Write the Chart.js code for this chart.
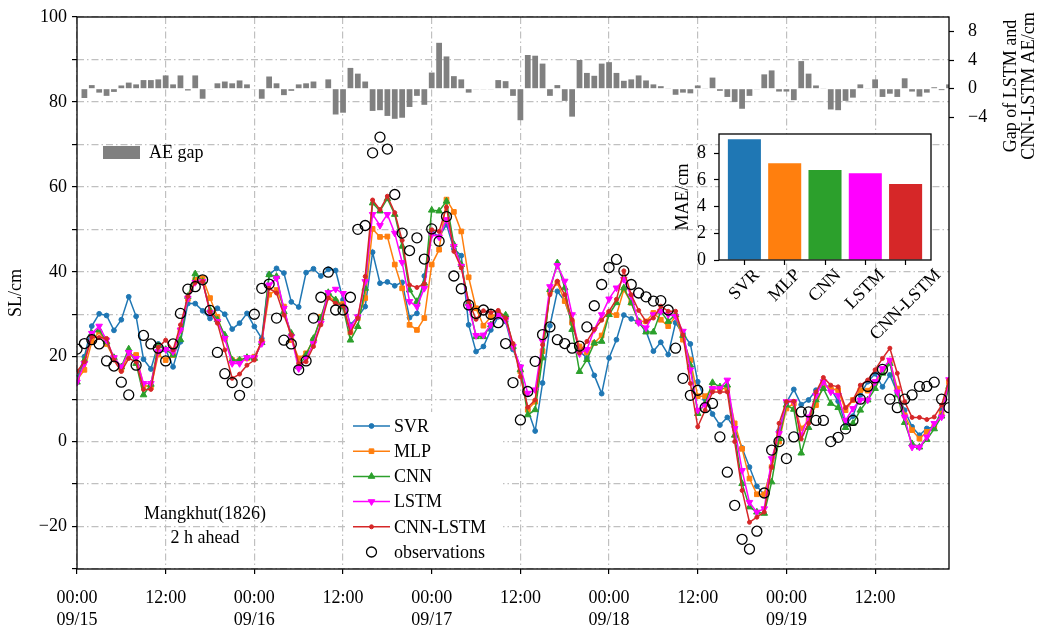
<!DOCTYPE html>
<html>
<head>
<meta charset="utf-8">
<script src="https://cdn.jsdelivr.net/npm/chart.js@4.4.1/dist/chart.umd.min.js"></script>
<style>
  html, body { margin: 0; padding: 0; background: #fff; }
  #wrap { position: relative; width: 1043px; height: 634px; }
  #main { position: absolute; left: 0; top: 0; }
  #inset { position: absolute; left: 640px; top: 120px; }
</style>
</head>
<body>
<div id="wrap">
  <canvas id="main" width="1043" height="634"></canvas>
  <canvas id="inset" width="305" height="230"></canvas>
</div>
<script>
// hourly samples, 09/15 00:00 .. 09/19 22:00
const hours = Array.from({ length: 119 }, (_, i) => i);

const tickHours = [0, 12, 24, 36, 48, 60, 72, 84, 96, 108];
const tickTimes = ['00:00', '12:00', '00:00', '12:00', '00:00', '12:00', '00:00', '12:00', '00:00', '12:00'];
const tickDates = ['09/15', '', '09/16', '', '09/17', '', '09/18', '', '09/19', ''];

const svr = [
  15, 20, 27.2, 30.1, 29.7, 26.2, 28.7, 34.1, 29.5, 19.4, 17.1, 23,
  21.7, 17.6, 23.5, 32.5, 32.5, 30.8, 29, 31.4, 30, 26.5, 27.9, 30.2,
  27.1, 24.3, 39.3, 40.8, 39.7, 32.9, 31.7, 39.8, 40.7, 39, 40.6, 40.3,
  33.4, 27.5, 29.4, 31.8, 44.6, 37.3, 37.6, 36.7, 37.5, 29.2, 30.2, 39,
  49.5, 48.2, 51.1, 45.4, 43.8, 27.5, 21.2, 22.4, 26.3, 29.4, 28.3, 21.7,
  17.6, 7.5, 2.5, 13.8, 27.3, 35.4, 33.1, 28, 21.3, 19.7, 15.6, 11.3,
  19.7, 24, 29.8, 28.9, 28.1, 26, 21.3, 23.4, 20.5, 28, 25.4, 23,
  14.1, 10, 6.5, 3.9, 5.7, 3, -1.5, -6, -10.5, -12.5, -6, 2.5,
  9.2, 12.3, 8.7, 9.8, 12.1, 13.7, 12.5, 9.5, 4, 6, 11, 14.1,
  16, 12.9, 15.7, 11.5, 7.4, 3.5, 1.5, 3.1, 3.5, 7.4, 13
];
const mlp = [
  14.5, 16.9, 23.5, 25.9, 23, 19.6, 17, 20.5, 20.4, 13.3, 12.8, 20.5,
  19.2, 20.4, 26.3, 33.6, 38.1, 38.5, 33.8, 29.4, 24.3, 19.2, 19.1, 19.6,
  20, 23.5, 34.6, 35.7, 31.8, 23.9, 19.6, 20.8, 23.9, 29.4, 34.2, 33,
  32.4, 25.7, 29.1, 33.8, 50.1, 48.2, 48.3, 41.7, 36.1, 27.5, 26.3, 29.1,
  41.7, 45.2, 57, 54.1, 49.5, 38.7, 31.4, 27.3, 29.4, 30.2, 29.1, 22.4,
  16.5, 7.5, 9.4, 21.3, 35.4, 37.4, 33.1, 28, 22.4, 21, 23.2, 25,
  30.3, 29.8, 35.8, 32.7, 28.3, 28.3, 30.3, 28.7, 27.2, 29.5, 24, 19.2,
  10.7, 10.7, 12.5, 12.5, 12.5, 4.3, -1.7, -8.7, -12.4, -12.4, -6, 0,
  7.8, 9, 3.1, 5, 8.6, 13.3, 12.5, 12.1, 7.4, 9.8, 12.1, 12,
  14, 16.5, 19, 12.5, 6.2, 2.7, 0.7, 2.3, 3.5, 6.6, 14
];
const cnn = [
  14, 19.2, 25.5, 26.3, 23.5, 19.8, 17.6, 21.8, 18.4, 11, 13.5, 22.6,
  21.7, 20.4, 24, 34.2, 39.5, 37.7, 31, 28.7, 25.1, 19.2, 19.2, 19.8,
  19.6, 23.3, 39.3, 38.9, 30.6, 25.5, 17.6, 20.4, 24.3, 29.1, 35.1, 33.4,
  31.7, 23.9, 27.1, 36.1, 56.2, 54.3, 57.2, 53.5, 46, 35.7, 33, 37.3,
  54.5, 54.3, 56.6, 46.4, 41.7, 32.6, 24.7, 24.7, 27.5, 30.2, 29.8, 22.4,
  16.9, 6.3, 7.5, 19.7, 35.8, 42.1, 36.2, 26.4, 16.5, 19.3, 23.2, 23.6,
  29.9, 32.7, 36.2, 32.7, 28.3, 25.8, 25.8, 30.7, 28.3, 29.9, 25, 18,
  6.6, 9, 13.9, 12.9, 13.3, 1.5, -9.9, -15.4, -16.6, -16.9, -9.5, 0.7,
  8.6, 7.6, -2.7, 3.3, 9.8, 12.5, 9, 8, 3.3, 4.3, 7.4, 9.8,
  12.5, 16.1, 18.4, 11, 4.5, -0.5, -1.3, 0.5, 3, 6, 13
];
const lstm = [
  14, 18.4, 25.5, 27.2, 23.9, 19.8, 17.6, 21, 19.6, 13.7, 13.7, 21.2,
  21.7, 21.2, 26.3, 33.8, 37.5, 37.7, 30.4, 28.3, 24.3, 18.4, 18.4, 19.8,
  19.8, 23.1, 36.9, 38.5, 31.4, 24.7, 17.2, 19.6, 23.1, 27.9, 35.1, 35.9,
  34.9, 27.1, 29.4, 37.7, 53.5, 50.9, 53.5, 49.1, 42.2, 33, 31.8, 36.1,
  48.7, 48.2, 52.3, 46, 41.3, 31.8, 25, 25.1, 27.5, 29.8, 28.7, 22.4,
  17.6, 11.4, 12.2, 23.6, 36.5, 41.5, 37.8, 29.9, 20.7, 21.7, 26.4, 29.9,
  33.6, 36.2, 38.2, 34.3, 28, 26.8, 29.9, 30.7, 29.9, 29.5, 26, 16.9,
  7.4, 8.6, 12.5, 12.5, 14.5, 3.1, -6.8, -14.3, -16.6, -15.8, -4, 1.9,
  9.4, 9.4, 1.5, 5.8, 10.9, 14.1, 11.7, 10.9, 5, 7.8, 9.8, 9.8,
  14.1, 17.2, 19.2, 11.7, 5.8, -1.3, -1.3, 1.1, 4.3, 5.8, 14.6
];
const cnnLstm = [
  16.5, 18.8, 24.7, 24.5, 24.3, 19.2, 16.5, 19.6, 18.8, 12.3, 12.3, 22.2,
  23.9, 21.6, 27.5, 34.2, 37.5, 37.7, 30.6, 27.9, 21.6, 14.9, 15.9, 18,
  19.2, 23.9, 36.1, 35, 29.8, 25.1, 18.4, 18.8, 22.4, 27.5, 33.8, 32.6,
  32, 25.7, 29.1, 38.9, 56.9, 54.6, 57.8, 53.9, 47.4, 36.9, 36.3, 37.2,
  49.9, 49.5, 55.2, 44.8, 40.9, 33, 28.8, 30.8, 30.4, 30.9, 29.1, 23.1,
  15.3, 8.1, 9.8, 22.8, 34.6, 37.8, 34.6, 28.7, 20.9, 23.6, 26.4, 28.6,
  30.7, 33.5, 40.2, 34.6, 30.9, 28.3, 29.1, 31.9, 30.7, 30.7, 25.1, 13.7,
  3.5, 7.4, 11.7, 11.7, 11.7, 0, -11.5, -19, -17.8, -16.6, -6, 4.3,
  9.4, 9.5, 0.6, 4.3, 11.7, 15.1, 13.3, 12.9, 8, 9.8, 13.3, 14.5,
  16.9, 19.6, 22, 16.1, 9.4, 5.7, 5.7, 5.2, 5.8, 8.6, 14.5
];
const observations = [
  21.8, 23.1, 24, 23, 19, 17.8, 14, 11, 18, 25, 23, 22,
  19, 23, 30.2, 35.9, 36.5, 38.1, 30.9, 21, 16, 13.9, 10.9, 13.9,
  30, 36.1, 37.1, 29.1, 23.9, 23, 16.9, 19, 29.1, 34, 39.9, 31,
  31, 34, 50, 50.9, 68, 71.7, 68.9, 58.2, 49.1, 45, 48, 43,
  50.1, 47.2, 53, 39, 36, 32.2, 30.2, 31, 30, 28, 23.1, 13.9,
  5.1, 11.8, 18.9, 25.2, 27, 24, 23.1, 22, 22.5, 27, 32, 37,
  41, 42.9, 40.2, 37, 35, 34.1, 33.1, 33.2, 31, 22, 14.9, 10.9,
  12.1, 8, 9, 1.1, -7.2, -15, -23, -25.3, -21.1, -12.1, -2, 0,
  -4, 1.1, 7, 7, 5, 5, 0, 1, 3, 5, 10, 13,
  15, 17, 10, 8, 10, 11, 13, 13, 14, 10, 8
];
// gap of LSTM and CNN-LSTM absolute error (right axis)
const aeGap = [
  null, -1.3, 0.5, -0.55, -1, -0.45, 0.45, 0.85, 0.6, 1.2, 1.2, 1.3,
  1.85, 0.6, 1.85, -0.25, 1.85, -1.4, -0.05, 0.75, 1, 0.75, 1.15, 0.6,
  -0.05, -1.4, 1.7, 0.75, -0.9, -0.3, 0.6, 0.75, 1, -0.05, 1.3, -3.6,
  -3.35, 2.9, 2.1, 1, -3.1, -3, -3.8, -4.2, -4.05, -2.55, -1, -2.25,
  2.25, 6.4, 4.5, 1.75, 1.3, -0.55, -0.05, -0.05, -0.05, 1.2, 1.05, -1,
  -4.4, 4.7, 4.6, 3.5, -1, 0.5, -1.7, -3.9, 4, 2.2, 1.8, 3.5,
  3.7, 2.2, 1.1, 1.3, 1.85, 1.15, 0.6, 0.35, 0.05, -0.85, -0.55, -0.65,
  0.45, 0.05, 1.55, -0.3, -1.15, -1.85, -2.8, -1, -0.05, 2, 2.55, -0.4,
  -0.4, -1.6, 3.85, 2.1, 0.45, 0.05, -2.9, -3, -1.7, -1.25, 0.6, 0.05,
  1.3, -1.15, -0.7, -1.15, 1.45, -0.4, -1.1, -0.55, 0.2, -0.2, 0.6
];

const models = ['SVR', 'MLP', 'CNN', 'LSTM', 'CNN-LSTM'];
const modelColors = ['#1f77b4', '#ff7f0e', '#2ca02c', '#ff00ff', '#d62728'];
const maeValues = [9.05, 7.25, 6.75, 6.5, 5.7];

const serif = '"Liberation Serif", "Times New Roman", serif';
Chart.defaults.font.family = serif;
Chart.defaults.font.size = 18;
Chart.defaults.color = '#000';

const gridColor = '#c0c0c0';
const gridDash = [7, 3, 1.5, 3];
const fmt = v => (v < 0 ? '\u2212' + (-v) : String(v));
const pts = vals => hours.map(h => ({ x: h, y: vals[h] }));
// fixed box sizes, without the extra label padding chart.js adds
const fixBox = (w, h) => s => {
  if (w) s.width = w;
  if (h) s.height = h;
  s.paddingTop = 0; s.paddingBottom = 0; s.paddingLeft = 0; s.paddingRight = 0;
};

const markers = [
  { pointStyle: 'circle', pointRadius: 2.4, pointRotation: 0 },
  { pointStyle: 'rect', pointRadius: 3.3, pointRotation: 0 },
  { pointStyle: 'triangle', pointRadius: 3.8, pointRotation: 0 },
  { pointStyle: 'triangle', pointRadius: 3.8, pointRotation: 180 },
  { pointStyle: 'circle', pointRadius: 2, pointRotation: 0 }
];
const series = [svr, mlp, cnn, lstm, cnnLstm];

const lineSets = series.map((vals, i) => ({
  type: 'line',
  label: models[i],
  data: pts(vals),
  borderColor: modelColors[i],
  backgroundColor: modelColors[i],
  borderWidth: 1.5,
  pointBorderWidth: 1,
  pointStyle: markers[i].pointStyle,
  pointRadius: markers[i].pointRadius,
  pointRotation: markers[i].pointRotation,
  tension: 0,
  yAxisID: 'y',
  order: 6 - i
}));

function drawMark(ctx, ds, x, y) {
  ctx.save();
  ctx.strokeStyle = ds.borderColor;
  ctx.fillStyle = ds.type === 'scatter' ? 'rgba(0,0,0,0)' : ds.backgroundColor;
  ctx.lineWidth = ds.pointBorderWidth;
  Chart.helpers.drawPoint(ctx, {
    pointStyle: ds.pointStyle, radius: ds.pointRadius,
    rotation: ds.pointRotation || 0, borderWidth: ds.pointBorderWidth
  }, x, y);
  ctx.restore();
}

const mainDecor = {
  id: 'mainDecor',
  afterDraw(chart) {
    const { ctx, chartArea: a } = chart;
    ctx.save();
    ctx.strokeStyle = '#000';
    ctx.lineWidth = 1.3;
    ctx.strokeRect(a.left, a.top, a.right - a.left, a.bottom - a.top);

    ctx.font = '18px ' + serif;
    ctx.fillStyle = '#000';
    ctx.textBaseline = 'middle';

    // legend of the bars
    ctx.fillStyle = '#808080';
    ctx.fillRect(103, 146, 37, 13);
    ctx.fillStyle = '#000';
    ctx.textAlign = 'left';
    ctx.fillText('AE gap', 149, 153);

    // legend of the lines
    ctx.fillStyle = '#fff';
    ctx.fillRect(346, 412, 157, 155);
    const sets = chart.data.datasets.filter(d => d.type !== 'bar');
    sets.forEach((ds, i) => {
      const y = 426 + i * 25.2;
      if (ds.type === 'line') {
        ctx.strokeStyle = ds.borderColor;
        ctx.lineWidth = ds.borderWidth;
        ctx.beginPath();
        ctx.moveTo(353, y);
        ctx.lineTo(390, y);
        ctx.stroke();
      }
      drawMark(ctx, ds, 371.5, y);
      ctx.fillStyle = '#000';
      ctx.fillText(ds.label, 394, y + 1);
    });

    // case annotation
    ctx.textAlign = 'center';
    ctx.fillText('Mangkhut(1826)', 205, 514);
    ctx.fillText('2 h ahead', 205, 538);

    // right axis title, reading upward
    ctx.translate(1011, 86);
    ctx.rotate(-Math.PI / 2);
    ctx.fillText('Gap of LSTM and', 0, 0);
    ctx.fillText('CNN-LSTM AE/cm', 0, 18);
    ctx.restore();
  }
};

new Chart(document.getElementById('main'), {
  type: 'line',
  data: {
    datasets: [
      {
        type: 'bar',
        label: 'AE gap',
        data: pts(aeGap),
        yAxisID: 'y2',
        backgroundColor: '#808080',
        barPercentage: 0.78,
        categoryPercentage: 1,
        order: 10
      },
      ...lineSets,
      {
        type: 'scatter',
        label: 'observations',
        data: pts(observations),
        yAxisID: 'y',
        borderColor: '#000',
        backgroundColor: 'rgba(0,0,0,0)',
        pointStyle: 'circle',
        pointRadius: 5,
        pointBorderWidth: 1.3,
        borderWidth: 1.3,
        showLine: false,
        order: 0
      }
    ]
  },
  options: {
    responsive: false,
    animation: false,
    layout: { padding: { top: 17, left: 0, right: 0, bottom: 0 } },
    plugins: { legend: { display: false }, tooltip: { enabled: false } },
    scales: {
      x: {
        type: 'linear',
        offset: false,
        min: 0,
        max: 118,
        afterBuildTicks: s => { s.ticks = tickHours.map(v => ({ value: v })); },
        afterFit: fixBox(0, 65),
        ticks: {
          autoSkip: false,
          maxRotation: 0,
          padding: 13,
          font: { lineHeight: 1.25 },
          callback: v => {
            const i = tickHours.indexOf(v);
            return tickDates[i] ? [tickTimes[i], tickDates[i]] : tickTimes[i];
          }
        },
        grid: { offset: false, color: gridColor, lineWidth: 1.2, tickColor: '#000', tickLength: 5, tickWidth: 1.2 },
        border: { display: false, dash: gridDash }
      },
      y: {
        position: 'left',
        min: -30,
        max: 100,
        afterFit: fixBox(77, 0),
        ticks: { stepSize: 10, autoSkip: false, padding: 5, callback: v => (v % 20 === 0 ? fmt(v) : '') },
        grid: { color: gridColor, lineWidth: 1.2, tickColor: '#000', tickLength: 5, tickWidth: 1.2 },
        border: { display: false, dash: gridDash },
        title: { display: true, text: 'SL/cm', padding: { top: 5, bottom: 0 } }
      },
      y2: {
        position: 'right',
        min: -67,
        max: 10,
        afterBuildTicks: s => { s.ticks = [-4, 0, 4, 8].map(v => ({ value: v })); },
        afterFit: fixBox(94, 0),
        ticks: { padding: 14, callback: v => fmt(v) },
        grid: { drawOnChartArea: false, tickColor: '#000', tickLength: 5, tickWidth: 1.2 },
        border: { display: false }
      }
    }
  },
  plugins: [mainDecor]
});

// inset: mean absolute error per model
const insetDecor = {
  id: 'insetDecor',
  beforeDraw(chart) {
    const { ctx, chartArea: a } = chart;
    ctx.save();
    ctx.fillStyle = '#fff';
    ctx.fillRect(a.left, a.top, a.right - a.left, a.bottom - a.top);
    ctx.restore();
  },
  afterDraw(chart) {
    const { ctx, chartArea: a } = chart;
    const xs = chart.scales.x;
    ctx.save();
    ctx.strokeStyle = '#000';
    ctx.lineWidth = 1.3;
    ctx.strokeRect(a.left, a.top, a.right - a.left, a.bottom - a.top);
    ctx.font = '18px ' + serif;
    ctx.fillStyle = '#000';
    ctx.textAlign = 'center';
    ctx.textBaseline = 'middle';
    models.forEach((m, i) => {
      const px = xs.getPixelForValue(i);
      const w = ctx.measureText(m).width;
      const side = (w + 18) * Math.SQRT1_2;
      ctx.save();
      ctx.translate(px, a.bottom + 6 + side / 2);
      ctx.rotate(-Math.PI / 4);
      ctx.fillText(m, 0, 0);
      ctx.restore();
    });
    ctx.restore();
  }
};

new Chart(document.getElementById('inset'), {
  type: 'bar',
  data: {
    datasets: [{
      label: 'MAE',
      data: models.map((m, i) => ({ x: i, y: maeValues[i] })),
      backgroundColor: modelColors,
      barPercentage: 0.82,
      categoryPercentage: 1
    }]
  },
  options: {
    responsive: false,
    animation: false,
    layout: { padding: { left: 32, top: 14, right: 14, bottom: 0 } },
    plugins: { legend: { display: false }, tooltip: { enabled: false } },
    scales: {
      x: {
        type: 'linear',
        offset: false,
        min: -0.63,
        max: 4.63,
        afterBuildTicks: s => { s.ticks = models.map((m, i) => ({ value: i })); },
        afterFit: fixBox(0, 90),
        ticks: { display: false },
        grid: { offset: false, drawOnChartArea: false, tickColor: '#000', tickLength: 5, tickWidth: 1.2 },
        border: { display: false }
      },
      y: {
        min: 0,
        max: 9.45,
        afterBuildTicks: s => { s.ticks = [0, 2, 4, 6, 8].map(v => ({ value: v })); },
        afterFit: fixBox(47, 0),
        ticks: { padding: 8 },
        grid: { drawOnChartArea: false, tickColor: '#000', tickLength: 5, tickWidth: 1.2 },
        border: { display: false },
        title: { display: true, text: 'MAE/cm', padding: 0 }
      }
    }
  },
  plugins: [insetDecor]
});
</script>
</body>
</html>
